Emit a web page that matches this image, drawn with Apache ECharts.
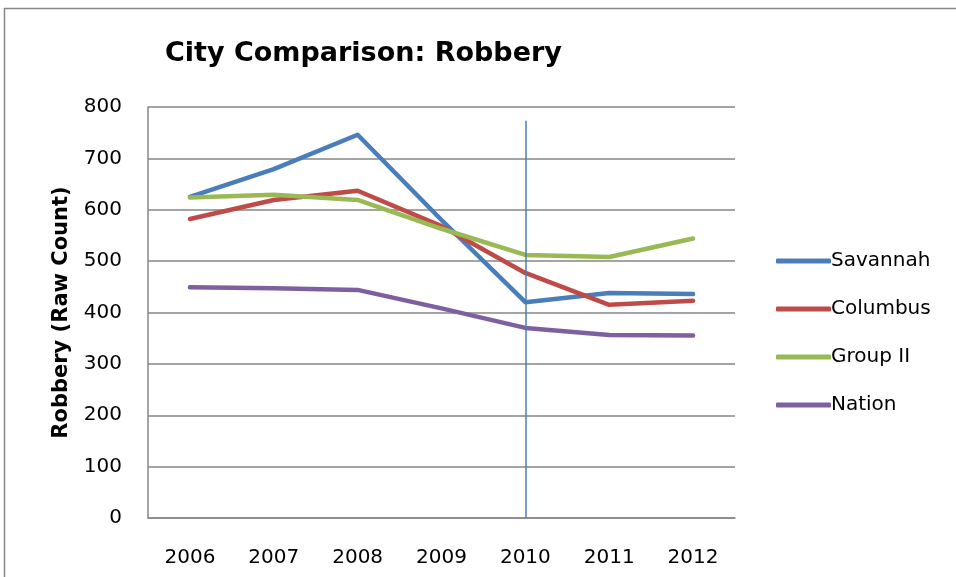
<!DOCTYPE html>
<html><head><meta charset="utf-8">
<script src="https://cdn.jsdelivr.net/npm/echarts@6/dist/echarts.min.js"></script>
<style>html,body{margin:0;padding:0;background:#fff}#c{width:956px;height:577px}</style>
</head><body><div id="c"></div>
<script>
var years = ['2006','2007','2008','2009','2010','2011','2012'];
var savannah = [625, 679, 746, 580, 420, 438, 436];
var columbus = [582, 619, 637, 568, 477, 415, 423];
var group2 = [624, 629, 619, 563, 512, 508, 544];
var nation = [449, 447, 444, 408, 370, 356, 355];
var markerYear = '2010';
var markerTop = 773;

var font = '"DejaVu Sans", sans-serif';
var chart = echarts.init(document.getElementById('c'));
function s(name, data, color, extra) {
  var o = {name: name, type: 'line', data: data, symbol: 'none', smooth: false,
    lineStyle: {width: 4.5, color: color, cap: 'round', join: 'round'}, itemStyle: {color: color}};
  if (extra) Object.assign(o, extra);
  return o;
}
chart.setOption({
  animation: false,
  backgroundColor: '#fff',
  graphic: [{type: 'rect', shape: {x: 4.5, y: 8.5, width: 1000, height: 600},
    style: {fill: 'none', stroke: '#888', lineWidth: 1.5}}],
  title: {text: 'City Comparison: Robbery', left: 160, top: 35,
    textStyle: {fontFamily: font, fontWeight: 'bold', fontSize: 27, color: '#000'}},
  legend: {orient: 'vertical', left: 771, top: 246, itemGap: 28, itemWidth: 55, itemHeight: 5,
    icon: 'roundRect',
    textStyle: {fontFamily: font, fontSize: 20, color: '#000', padding: [0,0,0,-5]},
    data: ['Savannah','Columbus','Group II','Nation']},
  grid: {left: 148, right: 221, top: 107, bottom: 59},
  xAxis: {type: 'category', data: years, boundaryGap: true,
    axisLine: {lineStyle: {color: '#868686', width: 1.5}},
    axisTick: {show: false},
    axisLabel: {fontFamily: font, fontSize: 20, color: '#000', margin: 30}},
  yAxis: {type: 'value', min: 0, max: 800, interval: 100,
    name: 'Robbery (Raw Count)', nameLocation: 'middle', nameGap: 76,
    nameTextStyle: {fontFamily: font, fontWeight: 'bold', fontSize: 21, color: '#000'},
    axisLine: {show: true, lineStyle: {color: '#868686', width: 1.5}},
    axisTick: {show: false},
    splitLine: {lineStyle: {color: '#868686', width: 1.5}},
    axisLabel: {fontFamily: font, fontSize: 20, color: '#000', margin: 26, padding: [7,0,0,0]}},
  series: [
    s('Savannah', savannah, '#4a7ebb', {markLine: {symbol: 'none', silent: true, label: {show: false},
      lineStyle: {color: '#4a7ebb', width: 1.5, type: 'solid'},
      data: [[{coord: [markerYear, 0]}, {coord: [markerYear, markerTop]}]]}}),
    s('Columbus', columbus, '#be4b48'),
    s('Group II', group2, '#98b954'),
    s('Nation', nation, '#7d60a0')
  ]
});
</script></body></html>
